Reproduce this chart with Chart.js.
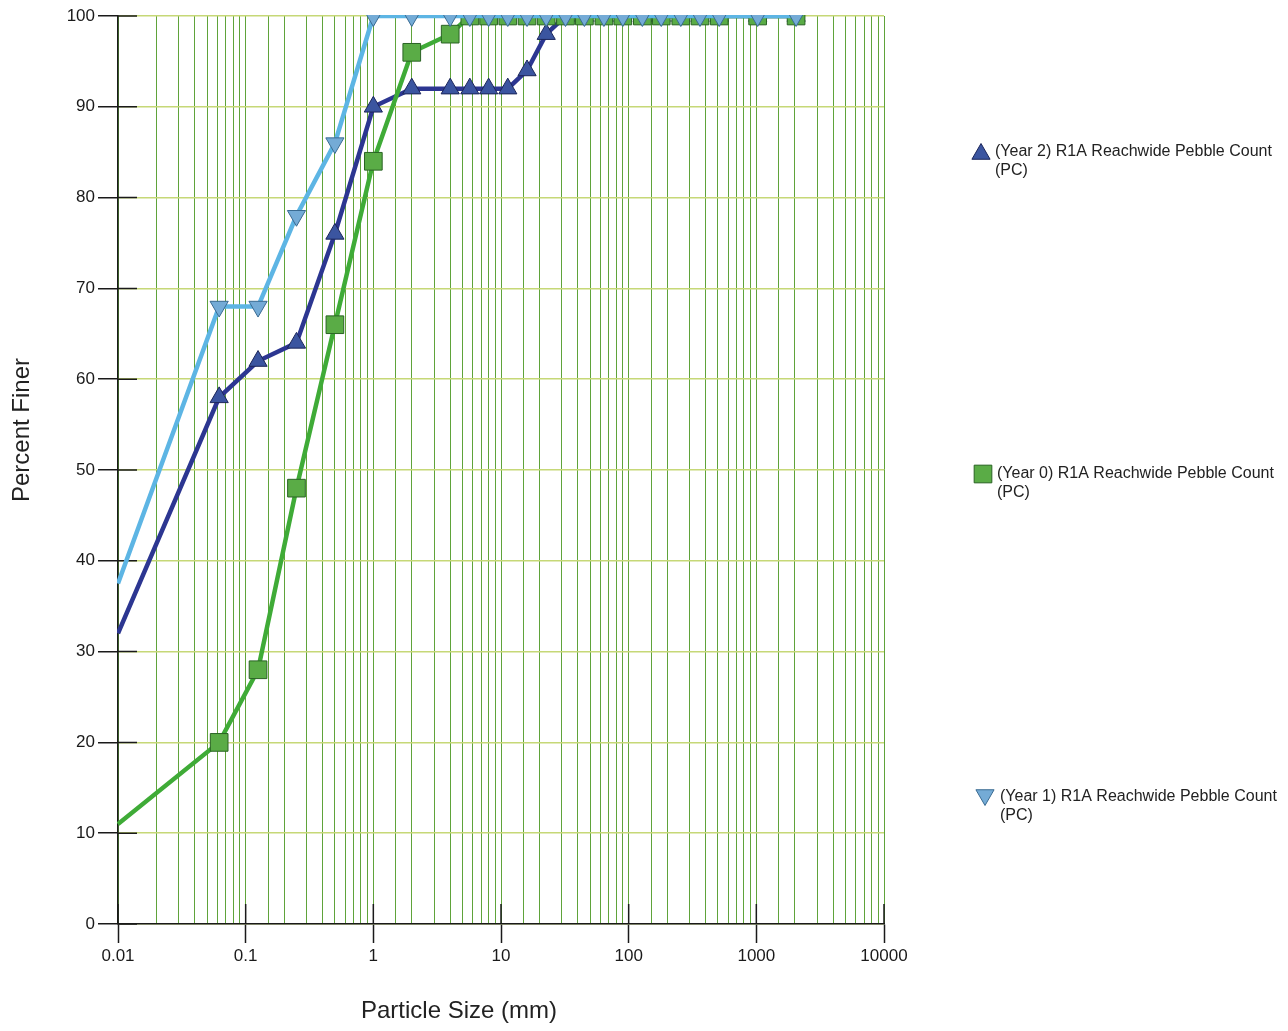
<!DOCTYPE html>
<html>
<head>
<meta charset="utf-8">
<script src="https://cdn.jsdelivr.net/npm/chart.js@4.4.1/dist/chart.umd.min.js"></script>
<style>
  html, body { margin: 0; padding: 0; background: #fff; }
  #wrap { position: relative; width: 1288px; height: 1031px; }
</style>
</head>
<body>
<div id="wrap"><canvas id="chart"></canvas></div>
<script>
// Particle size class upper bounds (mm)
const particleSizes = [0.01, 0.062, 0.125, 0.25, 0.5, 1, 2, 4, 5.7, 8, 11.3, 16, 22.6, 32, 45, 64, 90, 128, 180, 256, 362, 512, 1024, 2048];

// Percent finer per survey
const year2Finer = [32, 58, 62, 64, 76, 90, 92, 92, 92, 92, 92, 94, 98, 100, 100, 100, 100, 100, 100, 100, 100, 100, 100, 100];
const year0Finer = [11, 20, 28, 48, 66, 84, 96, 98, 100, 100, 100, 100, 100, 100, 100, 100, 100, 100, 100, 100, 100, 100, 100, 100];
const year1Finer = [37.5, 68, 68, 78, 86, 100, 100, 100, 100, 100, 100, 100, 100, 100, 100, 100, 100, 100, 100, 100, 100, 100, 100, 100];

const seriesLabels = [
  "(Year 2) R1A Reachwide Pebble Count",
  "(Year 0) R1A Reachwide Pebble Count",
  "(Year 1) R1A Reachwide Pebble Count"
];
const xTickLabels = ["0.01", "0.1", "1", "10", "100", "1000", "10000"];
const yTickValues = [0, 10, 20, 30, 40, 50, 60, 70, 80, 90, 100];

const toPoints = vals => particleSizes.map((s, i) => ({ x: s, y: vals[i] }));
const isDecade = v => {
  const l = Math.log10(v);
  return Math.abs(l - Math.round(l)) < 1e-6;
};

const styles = [
  { line: "#2c3691", fill: "#3b55a0", edge: "#1b2559", shape: "triangle", rot: 0, r: 10.5 },
  { line: "#3fab37", fill: "#5aac46", edge: "#2a6324", shape: "rect", rot: 0, r: 12.5 },
  { line: "#5db5e4", fill: "#74abd6", edge: "#3a6b92", shape: "triangle", rot: 180, r: 10.5 }
];
const seriesData = [year2Finer, year0Finer, year1Finer];
const drawOrder = [2, 1, 0];

function makeDataset(i) {
  const s = styles[i];
  return {
    label: seriesLabels[i],
    data: toPoints(seriesData[i]),
    borderColor: s.line,
    borderWidth: 4.5,
    backgroundColor: s.fill,
    pointBackgroundColor: s.fill,
    pointBorderColor: s.edge,
    pointBorderWidth: 1,
    pointStyle: s.shape,
    pointRotation: s.rot,
    pointRadius: ctx => ctx.dataIndex === 0 ? 0 : s.r,
    pointHoverRadius: ctx => ctx.dataIndex === 0 ? 0 : s.r,
    tension: 0,
    clip: 1,
    order: drawOrder[i]
  };
}

// Inner halves of the axis tick marks
const innerTicks = {
  id: "innerTicks",
  beforeDatasetsDraw(chart) {
    const { ctx, chartArea: a, scales: { x, y } } = chart;
    ctx.save();
    ctx.strokeStyle = "#1a1a1a";
    ctx.lineWidth = 1.5;
    ctx.beginPath();
    yTickValues.forEach(v => {
      const py = y.getPixelForValue(v);
      ctx.moveTo(a.left, py);
      ctx.lineTo(a.left + 19, py);
    });
    x.ticks.forEach(t => {
      if (!isDecade(t.value)) return;
      const px = x.getPixelForValue(t.value);
      ctx.moveTo(px, a.bottom);
      ctx.lineTo(px, a.bottom - 20);
    });
    ctx.stroke();
    ctx.restore();
  }
};

function drawMarker(ctx, s, cx, cy) {
  ctx.save();
  ctx.fillStyle = s.fill;
  ctx.strokeStyle = s.edge;
  ctx.lineWidth = 1;
  ctx.beginPath();
  if (s.shape === "rect") {
    const h = s.r * Math.SQRT1_2;
    ctx.rect(cx - h, cy - h, 2 * h, 2 * h);
  } else {
    let rad = s.rot * Math.PI / 180;
    for (let k = 0; k < 3; k++) {
      const px = cx + Math.sin(rad) * s.r, py = cy - Math.cos(rad) * s.r;
      k === 0 ? ctx.moveTo(px, py) : ctx.lineTo(px, py);
      rad += 2 * Math.PI / 3;
    }
    ctx.closePath();
  }
  ctx.fill();
  ctx.stroke();
  ctx.restore();
}

// Legend on the right plus axis titles
const sideLegend = {
  id: "sideLegend",
  afterDraw(chart) {
    const ctx = chart.ctx;
    const rows = [
      { y: 152, mx: 981, tx: 995 },
      { y: 474, mx: 983, tx: 997 },
      { y: 797, mx: 985, tx: 1000 }
    ];
    ctx.save();
    rows.forEach((r, i) => {
      drawMarker(ctx, styles[i], r.mx, r.y + (styles[i].shape === "triangle" ? (styles[i].rot ? -2 : 2) : 0));
      ctx.fillStyle = "#222";
      ctx.font = '16px "Liberation Sans", Arial, sans-serif';
      ctx.textBaseline = "middle";
      ctx.textAlign = "left";
      ctx.fillText(seriesLabels[i], r.tx, r.y, 277);
      ctx.fillText("(PC)", r.tx, r.y + 19);
    });

    ctx.fillStyle = "#222";
    ctx.font = '24px "Liberation Sans", Arial, sans-serif';
    ctx.textAlign = "center";
    ctx.textBaseline = "middle";
    ctx.fillText("Particle Size (mm)", 459, 1011);
    ctx.translate(22, 430);
    ctx.rotate(-Math.PI / 2);
    ctx.fillText("Percent Finer", 0, 0);
    ctx.restore();
  }
};

new Chart(document.getElementById("chart"), {
  type: "line",
  data: { datasets: [makeDataset(0), makeDataset(1), makeDataset(2)] },
  options: {
    responsive: true,
    maintainAspectRatio: false,
    animation: false,
    layout: { padding: { top: 16, left: 0, right: 404, bottom: 0 } },
    plugins: { legend: { display: false }, tooltip: { enabled: false } },
    scales: {
      x: {
        type: "logarithmic",
        min: 0.01,
        max: 10000,
        afterFit: s => { s.height = 107; },
        border: { display: true, color: "#1a1a1a", width: 1.5 },
        grid: {
          color: "#5fa33a",
          lineWidth: 1,
          drawTicks: true,
          tickLength: 19,
          tickWidth: 1.5,
          tickColor: c => (c.tick && isDecade(c.tick.value)) ? "#1a1a1a" : "rgba(0,0,0,0)"
        },
        ticks: {
          autoSkip: false,
          maxRotation: 0,
          padding: 3,
          color: "#1a1a1a",
          font: { family: '"Liberation Sans", Arial, sans-serif', size: 17 },
          callback: v => isDecade(v) ? xTickLabels[Math.round(Math.log10(v)) + 2] : ""
        }
      },
      y: {
        type: "linear",
        min: 0,
        max: 100,
        afterFit: s => { s.width = 118; },
        afterBuildTicks: s => { s.ticks = yTickValues.map(v => ({ value: v })); },
        border: { display: true, color: "#1a1a1a", width: 1.5 },
        grid: {
          color: "#c6d877",
          lineWidth: 1.5,
          drawTicks: true,
          tickLength: 20,
          tickWidth: 1.5,
          tickColor: "#1a1a1a"
        },
        ticks: {
          padding: 3,
          color: "#1a1a1a",
          font: { family: '"Liberation Sans", Arial, sans-serif', size: 17 }
        }
      }
    }
  },
  plugins: [innerTicks, sideLegend]
});
</script>
</body>
</html>
